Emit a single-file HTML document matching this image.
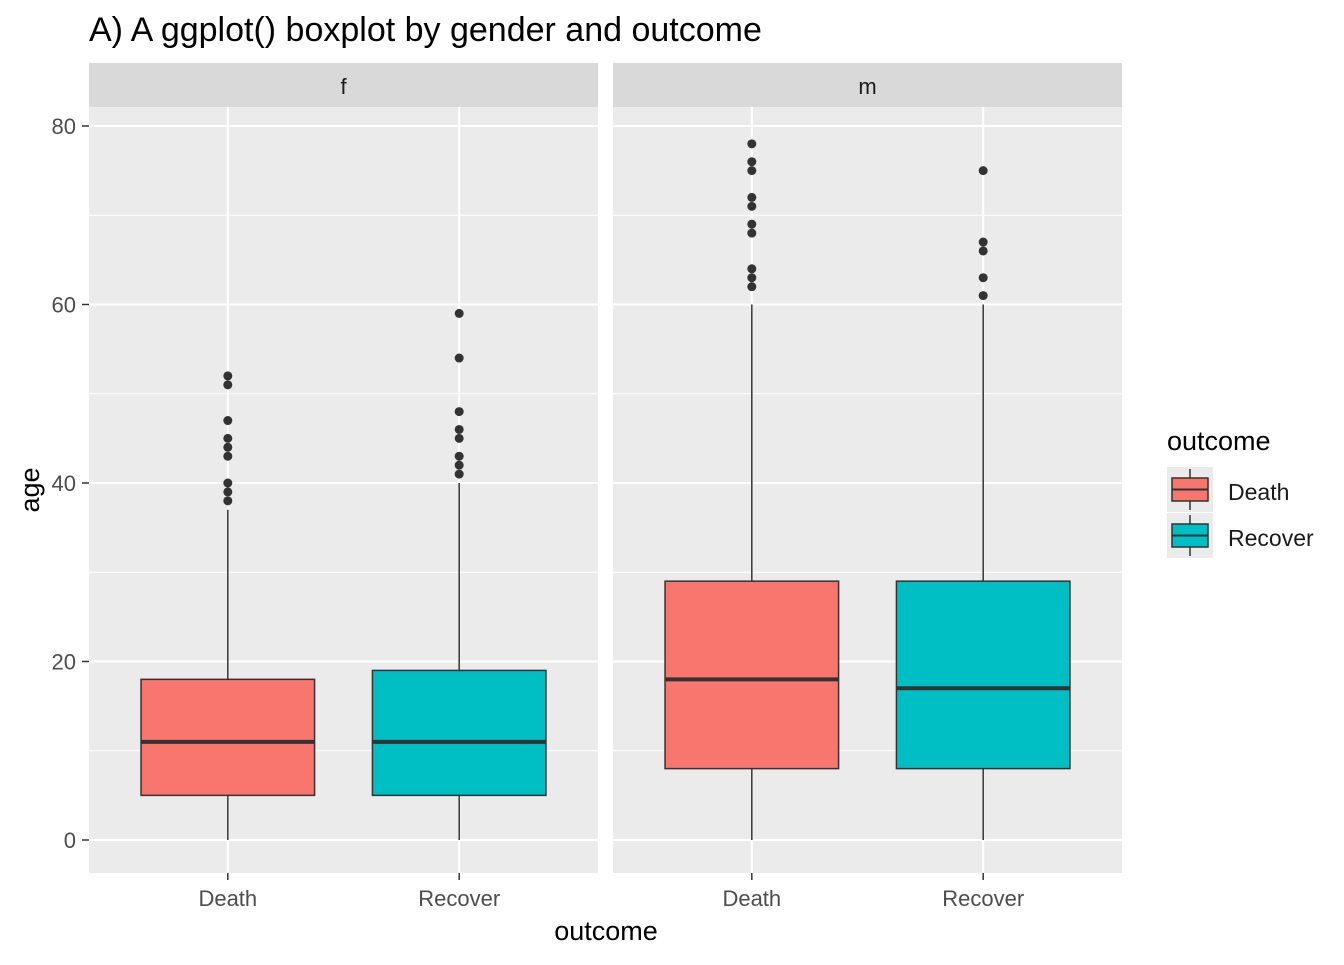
<!DOCTYPE html>
<html><head><meta charset="utf-8"><style>
body{margin:0;background:#fff}
svg text{font-family:"Liberation Sans",Arial,sans-serif}
</style></head><body>
<svg id="c" width="1344" height="960" xmlns="http://www.w3.org/2000/svg">
<text x="89" y="41" font-size="34" fill="#000">A) A ggplot() boxplot by gender and outcome</text>
<text x="606" y="940" font-size="27" text-anchor="middle" fill="#000">outcome</text>
<text x="0" y="0" font-size="27" text-anchor="middle" fill="#000" transform="translate(39,490) rotate(-90)">age</text>
<g id="panels"></g>
<g>
<text x="1167" y="450" font-size="27" fill="#000">outcome</text>
<g>
<rect x="1167" y="467" width="46" height="45" fill="#ebebeb"/>
<line x1="1190" y1="469" x2="1190" y2="510" stroke="#333" stroke-width="1.5"/>
<rect x="1172" y="478" width="36" height="23" fill="#F8766D" stroke="#333" stroke-width="1.5"/>
<line x1="1172" y1="489.5" x2="1208" y2="489.5" stroke="#333" stroke-width="2"/>
<text x="1228" y="500" font-size="23" fill="#1a1a1a">Death</text></g>
<g>
<rect x="1167" y="513" width="46" height="45" fill="#ebebeb"/>
<line x1="1190" y1="515" x2="1190" y2="556" stroke="#333" stroke-width="1.5"/>
<rect x="1172" y="524" width="36" height="23" fill="#00BFC4" stroke="#333" stroke-width="1.5"/>
<line x1="1172" y1="535.5" x2="1208" y2="535.5" stroke="#333" stroke-width="2"/>
<text x="1228" y="546" font-size="23" fill="#1a1a1a">Recover</text></g>
</g>
</svg>
<script>
const panelNames=["f","m"];
const categories=["Death","Recover"];
const yTicks=[0,20,40,60,80];
// per panel, per category: [whiskerLow, q1, median, q3, whiskerHigh]
const statsF=[[0,5,11,18,37],[0,5,11,19,40]];
const statsM=[[0,8,18,29,60],[0,8,17,29,60]];
const outliersF=[[52,51,47,45,44,43,40,39,38],[59,54,48,46,45,43,42,41]];
const outliersM=[[78,76,75,72,71,69,68,64,63,62],[75,67,66,63,61]];
const colors=["#F8766D","#00BFC4"];
const NS="http://www.w3.org/2000/svg";
const root=document.getElementById("panels");
const y=v=>840-v*8.925;
const panelX=[89,613],panelW=509;
function mk(tag,attrs,parent){const e=document.createElementNS(NS,tag);for(const k in attrs)e.setAttribute(k,attrs[k]);parent.appendChild(e);return e;}
const allStats=[statsF,statsM],allOut=[outliersF,outliersM];
panelNames.forEach((pn,pi)=>{
  const x0=panelX[pi];
  const step=panelW/(categories.length+0.2);
  const xc=i=>x0+step*(0.6+i);
  const g=mk("g",{},root);
  
  
  mk("rect",{x:x0,y:107,width:panelW,height:766,fill:"#ebebeb"},g);
  const strip=mk("rect",{x:x0,y:63,width:panelW,height:44,fill:"#d9d9d9"},g);
  
  
  const st=mk("text",{x:x0+panelW/2,y:94,"font-size":22,"text-anchor":"middle",fill:"#1a1a1a"},g);st.textContent=pn;
  for(let i=0;i<yTicks.length-1;i++){const m=(yTicks[i]+yTicks[i+1])/2;mk("line",{x1:x0,x2:x0+panelW,y1:y(m),y2:y(m),stroke:"#fff","stroke-width":1},g);}
  yTicks.forEach(t=>mk("line",{x1:x0,x2:x0+panelW,y1:y(t),y2:y(t),stroke:"#fff","stroke-width":2},g));
  categories.forEach((c,i)=>{const cx=xc(i);mk("line",{x1:cx,x2:cx,y1:107,y2:873,stroke:"#fff","stroke-width":2},g);
    mk("line",{x1:cx,x2:cx,y1:873,y2:880,stroke:"#333","stroke-width":1.5},g);
    const tl=mk("text",{x:cx,y:906,"font-size":22,"text-anchor":"middle",fill:"#4d4d4d"},g);tl.textContent=c;
    
    
  });
  categories.forEach((c,i)=>{
    const s=allStats[pi][i],cx=xc(i),hw=step*0.375;
    const b=mk("g",{},g);
    
    
    mk("line",{x1:cx,x2:cx,y1:y(s[0]),y2:y(s[1]),stroke:"#333","stroke-width":1.5},b);
    mk("line",{x1:cx,x2:cx,y1:y(s[3]),y2:y(s[4]),stroke:"#333","stroke-width":1.5},b);
    mk("rect",{x:cx-hw,y:y(s[3]),width:2*hw,height:y(s[1])-y(s[3]),fill:colors[i],stroke:"#333","stroke-width":1.5},b);
    mk("line",{x1:cx-hw,x2:cx+hw,y1:y(s[2]),y2:y(s[2]),stroke:"#333","stroke-width":4},b);
    allOut[pi][i].forEach(v=>{const p=mk("circle",{cx:cx,cy:y(v),r:4.5,fill:"#333"},b);
      
      });
  });
  if(pi===0){yTicks.forEach(t=>{mk("line",{x1:82,x2:89,y1:y(t),y2:y(t),stroke:"#333","stroke-width":1.5},root);
    const tt=mk("text",{x:76,y:y(t)+8,"font-size":22,"text-anchor":"end",fill:"#4d4d4d"},root);tt.textContent=t;
    
    });}
});
</script>
</body></html>
